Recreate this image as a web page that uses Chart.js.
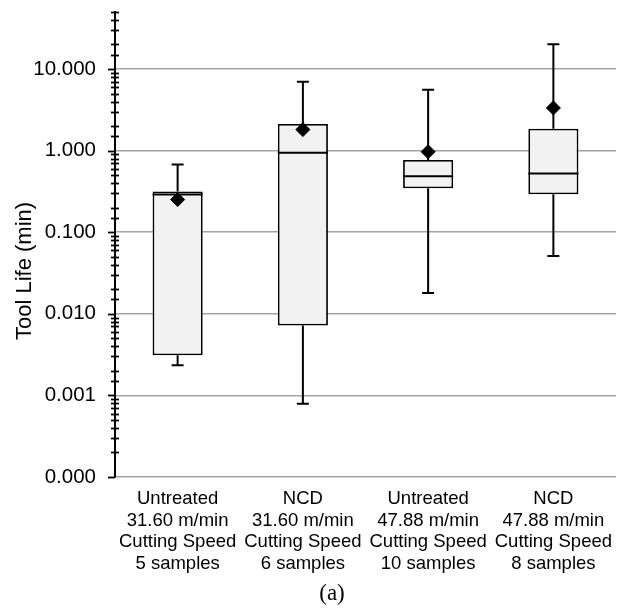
<!DOCTYPE html>
<html>
<head>
<meta charset="utf-8">
<script src="https://cdn.jsdelivr.net/npm/chart.js@4/dist/chart.umd.min.js"></script>
<style>
  html, body { margin: 0; padding: 0; background: #fff; }
  #wrap { position: relative; width: 621px; height: 610px; }
</style>
</head>
<body>
<div id="wrap"><canvas id="mychart" width="621" height="610"></canvas></div>
<script>
// box plot values (min)
var categories = [
    ['Untreated', '31.60 m/min', 'Cutting Speed', '5 samples'],
    ['NCD', '31.60 m/min', 'Cutting Speed', '6 samples'],
    ['Untreated', '47.88 m/min', 'Cutting Speed', '10 samples'],
    ['NCD', '47.88 m/min', 'Cutting Speed', '8 samples']
];
var whiskerLow  = [0.00234, 0.00079, 0.018, 0.051];
var quartile1   = [0.0031, 0.0072, 0.345, 0.292];
var medianVals  = [0.289, 0.945, 0.484, 0.523];
var quartile3   = [0.315, 2.12, 0.769, 1.86];
var whiskerHigh = [0.674, 7.0, 5.59, 20.1];
var meanVals    = [0.251, 1.81, 0.97, 3.34];

var yMin = 0.0001;
var yMax = 50;
var yTitle = 'Tool Life (min)';
var caption = '(a)';

var sansFont = '"Liberation Sans", Arial, Helvetica, sans-serif';

function isPow10(v) {
    var l = Math.log10(v);
    return Math.abs(l - Math.round(l)) < 1e-9;
}

// box bars as floating ranges q1..q3
var boxData = [];
for (var i = 0; i < categories.length; i++) {
    boxData.push([quartile1[i], quartile3[i]]);
}

// whiskers, caps and medians drawn through the scales
var boxPlugin = {
    id: 'boxExtras',
    afterDatasetDraw: function(chart, args) {
        if (args.index !== 0) return;
        var ctx = chart.ctx;
        var xs = chart.scales.x;
        var ys = chart.scales.y;
        var meta = args.meta;
        ctx.save();
        ctx.strokeStyle = '#000';
        ctx.lineWidth = 2;
        for (var i = 0; i < categories.length; i++) {
            var x = xs.getPixelForValue(i);
            var half = meta.data[i].width / 2;
            var capHalf = 6;
            var yHi = ys.getPixelForValue(whiskerHigh[i]);
            var yQ3 = ys.getPixelForValue(quartile3[i]);
            var yQ1 = ys.getPixelForValue(quartile1[i]);
            var yLo = ys.getPixelForValue(whiskerLow[i]);
            var yMed = ys.getPixelForValue(medianVals[i]);
            ctx.beginPath();
            ctx.moveTo(x, yHi); ctx.lineTo(x, yQ3);
            ctx.moveTo(x, yQ1); ctx.lineTo(x, yLo);
            ctx.moveTo(x - capHalf, yHi); ctx.lineTo(x + capHalf, yHi);
            ctx.moveTo(x - capHalf, yLo); ctx.lineTo(x + capHalf, yLo);
            ctx.moveTo(x - half, yMed); ctx.lineTo(x + half, yMed);
            ctx.stroke();
        }
        ctx.restore();
    }
};

// axis tick marks (major outside, minor crossing) and free text
var axisPlugin = {
    id: 'axisExtras',
    afterDraw: function(chart) {
        var ctx = chart.ctx;
        var ys = chart.scales.y;
        var ax = chart.chartArea.left;
        ctx.save();
        ctx.strokeStyle = '#000';
        ctx.lineWidth = 1.8;
        ys.ticks.forEach(function(t) {
            var py = Math.round(ys.getPixelForValue(t.value)) + 0.5;
            ctx.beginPath();
            if (isPow10(t.value)) {
                ctx.moveTo(ax - 7, py); ctx.lineTo(ax, py);
            } else {
                ctx.moveTo(ax - 4, py); ctx.lineTo(ax + 4, py);
            }
            ctx.stroke();
        });
        ctx.fillStyle = '#000';
        ctx.textAlign = 'center';
        ctx.textBaseline = 'middle';
        // y axis title
        ctx.save();
        ctx.translate(25, 271);
        ctx.rotate(-Math.PI / 2);
        ctx.font = '22px ' + sansFont;
        ctx.fillText(yTitle, 0, 0);
        ctx.restore();
        // caption
        ctx.font = '23px "Liberation Serif", "Times New Roman", serif';
        ctx.fillText(caption, 332, 594);
        ctx.restore();
    }
};

var ctx = document.getElementById('mychart').getContext('2d');
var chart = new Chart(ctx, {
    type: 'bar',
    data: {
        labels: categories,
        datasets: [
            {
                label: 'Box',
                data: boxData,
                order: 2,
                backgroundColor: '#f2f2f2',
                borderColor: '#000',
                borderWidth: 1.8,
                borderSkipped: false,
                barPercentage: 0.4,
                categoryPercentage: 1.0
            },
            {
                type: 'line',
                label: 'Mean',
                data: meanVals,
                order: 1,
                showLine: false,
                pointStyle: 'rectRot',
                pointRadius: 7,
                pointBorderWidth: 1,
                pointBackgroundColor: '#000',
                pointBorderColor: '#000'
            }
        ]
    },
    options: {
        responsive: false,
        animation: false,
        layout: { autoPadding: false, padding: { top: 12, right: 5, left: 0, bottom: 0 } },
        plugins: {
            legend: { display: false },
            tooltip: { enabled: false }
        },
        scales: {
            x: {
                grid: { display: false, drawTicks: false },
                border: { display: false },
                ticks: {
                    color: '#000',
                    padding: 11,
                    maxRotation: 0,
                    autoSkip: false,
                    font: { family: sansFont, size: 18.5, lineHeight: 1.17 }
                },
                afterFit: function(scale) {
                    scale.height = 133;
                    scale.paddingLeft = 0;
                    scale.paddingRight = 0;
                }
            },
            y: {
                type: 'logarithmic',
                min: yMin,
                max: yMax,
                border: { display: true, color: '#000', width: 2 },
                grid: {
                    drawTicks: false,
                    lineWidth: 1.6,
                    color: function(c) {
                        return (c.tick && isPow10(c.tick.value)) ? '#a3a3a3' : 'rgba(0,0,0,0)';
                    }
                },
                ticks: {
                    autoSkip: false,
                    color: '#000',
                    padding: 19,
                    font: { family: sansFont, size: 20.5 },
                    callback: function(v) {
                        return isPow10(v) ? Number(v).toFixed(3) : '';
                    }
                },
                afterFit: function(scale) {
                    scale.width = 115;
                    scale.paddingTop = 0;
                    scale.paddingBottom = 0;
                }
            }
        }
    },
    plugins: [boxPlugin, axisPlugin]
});
</script>
</body>
</html>
